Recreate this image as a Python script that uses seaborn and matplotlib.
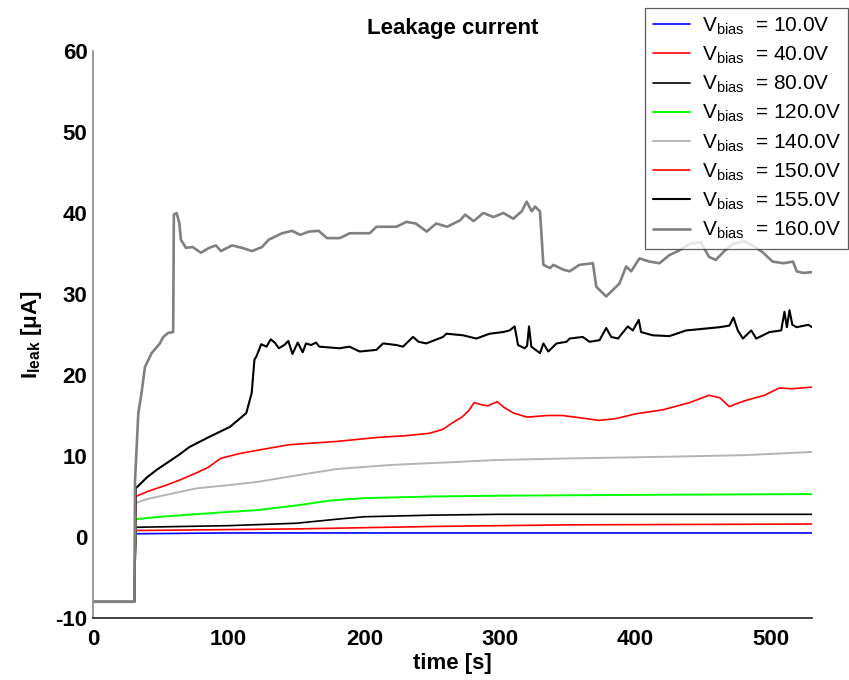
import numpy as np
import pandas as pd
import seaborn as sns
import matplotlib
matplotlib.use("Agg")
import matplotlib.pyplot as plt

sns.set_theme(style="white")
plt.rcParams['font.family'] = ['Liberation Sans', 'DejaVu Sans']
plt.rcParams['mathtext.fontset'] = 'custom'
plt.rcParams['mathtext.rm'] = 'Liberation Sans'
plt.rcParams['mathtext.bf'] = 'Liberation Sans:bold'
plt.rcParams['axes.unicode_minus'] = False
plt.rcParams['text.color'] = 'black'
plt.rcParams['axes.labelcolor'] = 'black'
plt.rcParams['xtick.color'] = 'black'
plt.rcParams['ytick.color'] = 'black'

# leakage current vs time, one array pair per bias voltage
t_10 = [0, 30.5, 31.5, 100, 300, 530]
i_10 = [-8, -8, 0.4, 0.5, 0.5, 0.5]

t_40 = [0, 30.5, 31.5, 150, 250, 350, 530]
i_40 = [-8, -8, 0.8, 1.0, 1.3, 1.5, 1.6]

t_80 = [0, 30.5, 31.5, 100, 150, 180, 200, 250, 300, 400, 530]
i_80 = [-8, -8, 1.2, 1.4, 1.7, 2.2, 2.5, 2.7, 2.8, 2.8, 2.8]

t_120 = [0, 30.5, 31.5, 50, 100, 120, 150, 175, 200, 250, 300, 400, 530]
i_120 = [-8, -8, 2.2, 2.5, 3.1, 3.3, 3.9, 4.5, 4.8, 5.0, 5.1, 5.2, 5.3]

t_140 = [0, 30.5, 31.5, 40, 54, 76, 100, 121, 150, 180, 220, 260, 297, 350, 420, 480, 530]
i_140 = [-8, -8, 4.2, 4.7, 5.2, 6.0, 6.4, 6.8, 7.6, 8.4, 8.9, 9.2, 9.5, 9.7, 9.9, 10.1, 10.5]

t_150 = [0, 30.5, 31.5, 40, 54, 65, 76, 85, 94, 108, 121, 145, 180, 210, 230, 248, 258,
         265, 272, 277, 281, 287, 291, 298, 303, 310, 320, 335, 346, 360, 373, 385, 400,
         420, 440, 454, 462, 469, 480, 495, 506, 515, 530]
i_150 = [-8, -8, 5.0, 5.6, 6.4, 7.1, 7.9, 8.6, 9.7, 10.3, 10.7, 11.4, 11.8, 12.3, 12.5, 12.8, 13.3,
         14.1, 14.8, 15.6, 16.6, 16.3, 16.2, 16.7, 16.0, 15.3, 14.8, 15.0, 15.0, 14.7, 14.4, 14.6, 15.2,
         15.7, 16.6, 17.5, 17.2, 16.1, 16.8, 17.5, 18.4, 18.3, 18.5]

t_155 = [0, 30.5, 31.5, 40, 47, 55, 63, 71, 85, 101, 113, 117, 119, 120.5, 124, 127.9, 131, 134,
         137, 141, 144, 147, 150.9, 154.6, 157, 160.7, 164.4, 166.8, 174.2, 181.9, 189, 196.6,
         208.9, 213.8, 223.6, 228.5, 235.9, 240, 245.7, 258, 260.5, 272.8, 282.6, 292.4, 302.2,
         307.1, 310.8, 313.3, 318.2, 320, 321.4, 323.1, 329.5, 332, 335.6, 341.7, 349.1, 351.3,
         361, 366, 373.4, 378.3, 382, 387, 394.2, 397.9, 402.3, 404, 412.6, 424.9, 437.2, 449.5,
         461.8, 469.1, 472.1, 475.3, 479, 485.2, 488.9, 498.7, 507.3, 509.7, 511.5, 513.4, 515.5,
         518.7, 527.3, 530]
i_155 = [-8, -8, 6.0, 7.4, 8.3, 9.2, 10.1, 11.1, 12.3, 13.6, 15.3, 17.8, 21.9, 22.3, 23.8, 23.5, 24.4, 24.0,
         23.3, 23.7, 24.2, 22.6, 24.0, 22.8, 23.9, 23.7, 24.0, 23.5, 23.4, 23.3, 23.5, 22.9,
         23.1, 23.9, 23.7, 23.5, 24.7, 24.1, 23.9, 24.7, 25.1, 24.9, 24.5, 25.1, 25.3,
         25.5, 26.0, 23.7, 23.3, 23.6, 26.0, 23.5, 22.7, 23.9, 22.9, 23.9, 24.1, 24.5,
         24.7, 24.1, 24.3, 25.8, 24.7, 24.5, 26.0, 25.5, 26.8, 25.3, 24.9, 24.8, 25.5, 25.7,
         25.9, 26.1, 27.1, 25.5, 24.5, 25.5, 24.5, 25.3, 25.5, 27.8, 25.9, 28.0, 26.2,
         25.9, 26.2, 25.9]

t_160 = [0, 30.5, 31, 33.4, 35.8, 38.3, 43.2, 49.3, 51.8, 55.5, 59.1, 59.6, 61.6, 63.6, 64.8, 68.5,
         73.4, 79.5, 85.7, 90.6, 94.3, 102.5, 109.9, 117.2, 124.6, 129.5, 139.4, 146.7, 152.8, 159,
         166.3, 172.5, 181.9, 189.3, 204, 208.9, 223.6, 231, 238, 246, 253, 261, 270.6, 274.3,
         280.5, 287.8, 295.2, 302.5, 309.8, 316, 319.7, 323.4, 325.8, 329.5, 332, 336.9, 339.4,
         346.7, 351.3, 358.6, 368.5, 371, 374.6, 378.3, 383.2, 388.1, 393, 396.7, 402.8, 410.2,
         417.5, 424.9, 432.3, 440, 448, 454, 459, 466, 472, 480, 489, 494, 501, 509, 516, 518.7,
         523.6, 530]
i_160 = [-8, -8, 7.0, 15.3, 17.8, 21.0, 22.7, 23.9, 24.7, 25.2, 25.3, 39.8, 40.0, 38.8, 36.7, 35.7,
         35.8, 35.1, 35.7, 36.0, 35.3, 36.0, 35.7, 35.3, 35.8, 36.7, 37.5, 37.8, 37.3, 37.7,
         37.8, 36.9, 36.9, 37.5, 37.5, 38.3, 38.3, 38.9, 38.7, 37.7, 38.7, 38.3, 39.1, 39.8,
         39.0, 40.0, 39.5, 40.0, 39.3, 40.2, 41.4, 40.2, 40.8, 40.2, 33.6, 33.2, 33.6,
         33.0, 32.8, 33.6, 33.8, 30.9, 30.3, 29.7, 30.5, 31.3, 33.4, 32.8, 34.4, 34.0,
         33.8, 34.8, 35.4, 36.2, 36.4, 34.6, 34.2, 35.4, 36.2, 36.5, 35.7, 35.1, 34.0, 33.8, 34.0, 32.8,
         32.6, 32.7]

voltages = ['10.0', '40.0', '80.0', '120.0', '140.0', '150.0', '155.0', '160.0']
times = [t_10, t_40, t_80, t_120, t_140, t_150, t_155, t_160]
currents = [i_10, i_40, i_80, i_120, i_140, i_150, i_155, i_160]
colors = ['#0000ff', '#ff0000', '#000000', '#00ff00', '#b4b4b4', '#ff0000', '#000000', '#808080']
widths = [1.2, 1.2, 1.2, 1.4, 1.4, 1.2, 1.5, 1.9]

fig = plt.figure(figsize=(8.49, 6.8), dpi=100)
ax = fig.add_axes([93 / 849, 62 / 680, (812 - 93) / 849, (618 - 51) / 680])

for v, t, cur, c, w in zip(voltages, times, currents, colors, widths):
    df = pd.DataFrame({'time': t, 'ileak': cur})
    sns.lineplot(data=df, x='time', y='ileak', ax=ax, color=c, linewidth=w,
                 estimator=None, sort=False,
                 label=r'$\mathregular{V_{bias}}$  = ' + v + 'V')

ax.set_xlim(0, 530)
ax.set_ylim(-10, 60)
ax.set_xticks([0, 100, 200, 300, 400, 500])
ax.set_yticks([-10, 0, 10, 20, 30, 40, 50, 60])
ax.tick_params(direction='in', length=5, labelsize=16)
ax.tick_params(axis='x', pad=8, color='#222222')
ax.tick_params(axis='y', pad=4, color='#888888')
for lab in ax.get_xticklabels() + ax.get_yticklabels():
    lab.set_fontweight('bold')

for s in ['top', 'right']:
    ax.spines[s].set_visible(False)
ax.spines['left'].set_color('#888888')
ax.spines['bottom'].set_color('#222222')
ax.spines['left'].set_linewidth(1.2)
ax.spines['bottom'].set_linewidth(1.2)

ax.set_title('Leakage current', fontsize=16, fontweight='bold', pad=12)
ax.set_xlabel('time [s]', fontsize=16, fontweight='bold', labelpad=2)
ax.set_ylabel(r'$\mathbf{I_{leak}}$ [μA]', fontsize=16, fontweight='bold', labelpad=8)

leg = ax.legend(loc='upper right', bbox_to_anchor=(0.999, 0.988),
                bbox_transform=fig.transFigure, borderaxespad=0, fontsize=15,
                frameon=True, fancybox=False, edgecolor='#333333',
                handlelength=1.8, handletextpad=0.55, labelspacing=0.38,
                borderpad=0.35)
leg.get_frame().set_linewidth(0.9)

fig.savefig('out.png', dpi=100)
